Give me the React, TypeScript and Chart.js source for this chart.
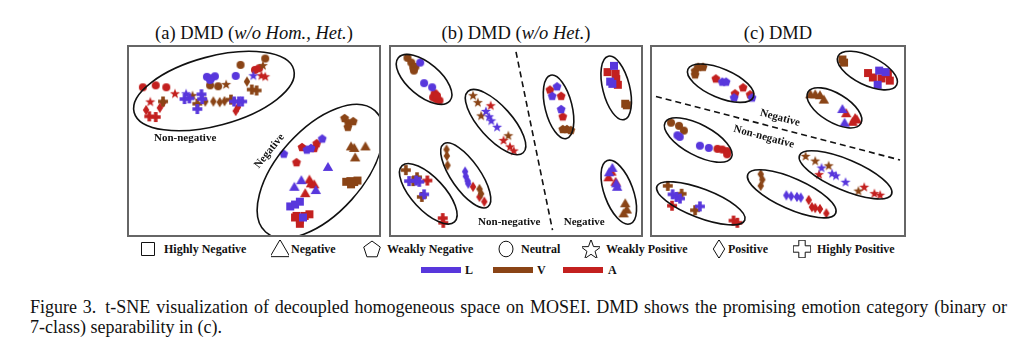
import React, { useEffect, useRef } from "react";
import { Chart, registerables } from "chart.js";
Chart.register(...registerables);

type P = [number, number, number];
type E = [number, number, number, number, number];
type Lbl = [string, number, number, number];

const CLASS_NAMES = ["Highly Negative", "Negative", "Weakly Negative", "Neutral", "Weakly Positive", "Positive", "Highly Positive"];
const MODALITIES = ["L", "V", "A"];
const MODALITY_COLORS = ["#5837dc", "#8a4416", "#c3201f"];
const PANEL_TITLES = ["(a) DMD (", "(b) DMD (", "(c) DMD"];
const PANEL_TITLE_ITALIC = ["w/o Hom., Het.", "w/o Het.", ""];
const CAPTION_LINES = [
  "Figure 3.\u00a0\u00a0t-SNE visualization of decoupled homogeneous space on MOSEI. DMD shows the promising emotion category (binary or",
  "7-class) separability in (c).",
];

// Panel (a)
const aL: P[] = [
  [54.7, 140.3, 6], [59.7, 141, 6], [72.3, 145.3, 6], [73, 140.3, 6], [68, 129.7, 6], [106.3, 137.7, 6], [111.3, 137.7, 6], [114.7, 137.7, 6],
  [56.3, 146.3, 4], [126.3, 165.3, 4],
  [78, 163.7, 3], [82.3, 162, 3], [86.3, 164.3, 3], [81.3, 160.3, 3], [108, 164.7, 3],
  [198, 98.7, 2], [158, 82.7, 2], [186.3, 88.7, 2], [182, 87, 2],
  [204, 68.7, 1], [176.3, 54.7, 1], [169, 47.7, 1], [191.3, 44.3, 1],
  [164.7, 27, 0], [174.7, 32, 0], [169.7, 29, 0], [178, 15.3, 0],
];
const aV: P[] = [
  [63, 144.3, 4], [98, 156, 4], [136.3, 176, 4],
  [32.3, 137.7, 6], [68, 135.3, 6], [124.7, 150.3, 6], [129.7, 149.3, 6], [103, 139.7, 6],
  [76.3, 137.7, 5], [84.7, 137.7, 5], [91.3, 137, 5], [96.3, 138, 5], [119.7, 158.7, 5],
  [81.3, 154.7, 3], [89.7, 153.7, 3], [113, 176.3, 3], [138.7, 183, 3],
  [221.3, 120.3, 2], [225.3, 115.3, 2], [230.3, 117, 2], [224.7, 111, 2],
  [228, 90.3, 1], [231.3, 88.7, 1], [243, 90.3, 1], [232.3, 78.7, 1],
  [223, 53, 0], [227.3, 53.7, 0], [231.3, 52.7, 0], [234.7, 54.3, 0], [228, 50.3, 0],
];
const aA: P[] = [
  [11.3, 152.7, 3], [24.7, 154.7, 3], [35.7, 152.7, 3], [128, 171, 3], [132.3, 172.7, 3],
  [19, 137.7, 4], [44.7, 146.3, 4], [134.7, 165.3, 4], [138.7, 164.3, 4],
  [14.7, 128.7, 5], [29, 131, 5], [32.3, 136.3, 5], [108, 127.7, 5], [110.3, 131.7, 5],
  [18, 122, 6], [24.7, 121.3, 6],
  [177, 89.7, 2], [192.3, 93.7, 2], [189.7, 88.7, 2], [171.3, 73.7, 2],
  [184.7, 55.3, 1], [186.3, 51.3, 1], [189.7, 50.3, 1], [180.3, 41, 1],
  [171.3, 17, 0], [174.7, 13, 0], [184.7, 18.7, 0], [174.7, 8.7, 0], [169.7, 15.3, 0], [179.7, 17, 0],
];
const aEllipses: E[] = [[85.3, 148.7, 86, 36, 15], [196, 64, 85, 44, 48]];
const aLabels: Lbl[] = [["Non-negative", 55.3, 98.7, 0], ["Negative", 143, 85.3, 51]];

// Panel (b)
const bL: P[] = [
  [27.3, 178.7, 3], [31.3, 157, 3], [39.7, 152.7, 3],
  [95.7, 127.7, 4], [99, 122, 4], [101.3, 117.7, 4], [107.3, 111, 4],
  [15.7, 53.7, 6], [23, 54.3, 6], [26.3, 53, 6], [31.3, 39.7, 6],
  [74, 63.7, 5], [74.7, 58.7, 5], [76.7, 53.7, 5], [77.3, 51, 5],
  [169.7, 153.7, 2], [164.7, 143.7, 2], [174, 129.7, 2],
  [229, 175.3, 0], [225, 158.7, 0], [227.3, 156.3, 0],
  [227.3, 67.7, 1], [224, 63, 1], [231.3, 51.3, 1], [232.3, 47.7, 1],
];
const bV: P[] = [
  [14, 183.7, 3], [18, 178.7, 3], [20, 173.7, 3], [22.3, 174.3, 3], [20.7, 170.3, 3],
  [82.3, 144.3, 4], [87.3, 137, 4], [90.7, 123, 4], [119, 102, 4],
  [12.3, 65.3, 6], [20, 53.7, 6], [24, 57.7, 6], [29, 37, 6],
  [54.7, 87, 5], [55, 80.3, 5], [55.7, 70.3, 5], [89, 45.3, 5], [90.7, 40.3, 5],
  [175.7, 108.7, 2], [180, 108.7, 2], [184, 107.7, 2],
  [240.7, 135.3, 0], [242.3, 133.7, 0],
  [240.7, 30.3, 1], [242.3, 23.7, 1], [239, 19.7, 1],
];
const bA: P[] = [
  [42.3, 146.3, 3], [40.7, 142, 3], [44, 140.3, 3], [47.3, 138.7, 3], [44.7, 143.7, 3],
  [100.7, 133.7, 4], [114, 97, 4], [120.7, 90.3, 4], [124.7, 86, 4],
  [34.7, 54.3, 6], [50.7, 14.7, 6], [51.3, 9.7, 6],
  [82.3, 47.7, 5], [89, 37, 5], [94, 32, 5],
  [162.3, 150.3, 2], [174, 143.7, 2], [175.7, 122, 2],
  [222.3, 168.7, 0], [230.7, 167, 0], [231.3, 161.3, 0], [233, 155.3, 0],
  [223.3, 57.7, 1], [230.7, 53, 1], [226.3, 63.7, 1],
];
const bEllipses: E[] = [
  [31.3, 161, 35, 17, -40], [105.7, 116, 43, 17, -48], [35.7, 40.3, 40, 17, -47], [74.7, 59.7, 40, 15, -55],
  [171.3, 132, 34, 14, -76], [231.3, 152, 34, 14, -76], [234, 42, 35, 15, -70],
];
const bDivider: [number, number][] = [[127, 190], [165, 2]];
const bLabels: Lbl[] = [["Non-negative", 120, 10, 0], ["Negative", 198, 10, 0]];

// Panel (c)
const cL: P[] = [
  [70, 158.7, 2], [74, 158.7, 2], [82.3, 142, 2], [101, 142, 2],
  [233.3, 170.3, 0], [240, 168.7, 0], [231.7, 155.3, 0],
  [195, 129.7, 1], [197.3, 115.3, 1],
  [23.3, 102, 3], [25.7, 100.3, 3], [46.7, 91, 3], [56, 88.7, 3],
  [173.3, 68, 4], [184.3, 62, 4], [188.3, 59.7, 4], [198.3, 53, 4],
  [136.7, 38.7, 5], [141.7, 37.7, 5], [147.7, 37, 5], [151.7, 36.3, 5],
  [18.3, 39.7, 6], [22.3, 37, 6], [26, 35.3, 6], [46.7, 27, 6],
];
const cV: P[] = [
  [41.7, 170.3, 2], [45, 174.3, 2], [50, 174.3, 2], [41.7, 166.3, 2],
  [195, 182, 0], [196.7, 178.7, 0],
  [161.7, 145.3, 1], [166.7, 145.3, 1], [171.7, 144.3, 1], [175.7, 139.7, 1],
  [16.7, 115.3, 3], [25, 112, 3], [30, 107, 3],
  [156.7, 80.3, 4], [166.7, 75.3, 4], [180.7, 70.3, 4], [211.7, 43.7, 4],
  [110, 61, 5], [111.7, 55.3, 5], [110, 48.7, 5],
  [13.3, 48.7, 6], [27.7, 40.3, 6], [41.7, 23, 6],
];
const cA: P[] = [
  [63.3, 162, 2], [91.7, 152.7, 2], [83.3, 146.3, 2], [99, 145.3, 2],
  [221.7, 167.7, 0], [226.7, 163, 0], [235.7, 162, 0], [242.3, 167, 0], [244.3, 159.7, 0],
  [199, 125.3, 1], [208.3, 120.3, 1], [210, 118.7, 1], [205.7, 116.3, 1],
  [65, 87.7, 3], [70, 87, 3], [75, 85.3, 3], [75, 82, 3],
  [170.7, 61, 4], [217.7, 47.7, 4], [228.3, 41, 4], [234.3, 39.3, 4],
  [160, 33.7, 5], [163.3, 26.3, 5], [166.7, 25.3, 5], [171.7, 24.3, 5], [178.3, 19.7, 5],
  [17.7, 27.7, 6], [81.7, 12, 6], [85.7, 9.7, 6],
];
const cEllipses: E[] = [
  [68.3, 157, 37, 15, -23], [221, 170.3, 34, 15, -26], [186.7, 131, 32, 15, -31], [45, 97, 39, 16, -28],
  [198.3, 60.3, 52, 16, -23], [142.3, 40.3, 50, 16, -24], [47.7, 30.3, 49, 15, -21],
];
const cDivider: [number, number][] = [[1, 143], [255, 76]];
const cLabels: Lbl[] = [["Negative", 130, 120.3, -15], ["Non-negative", 113.3, 100.3, -15]];

const SERIF = '"Liberation Serif", "Times New Roman", serif';

function shapePath(ctx: CanvasRenderingContext2D, shape: number, cx: number, cy: number, s: number) {
  ctx.beginPath();
  if (shape === 0) {
    ctx.rect(cx - s * 0.5, cy - s * 0.5, s, s);
  } else if (shape === 1) {
    ctx.moveTo(cx, cy - s * 0.55);
    ctx.lineTo(cx + s * 0.58, cy + s * 0.45);
    ctx.lineTo(cx - s * 0.58, cy + s * 0.45);
    ctx.closePath();
  } else if (shape === 2) {
    for (let i = 0; i < 5; i++) {
      const a = -Math.PI / 2 + (i * 2 * Math.PI) / 5;
      const px = cx + Math.cos(a) * s * 0.58;
      const py = cy + 0.05 * s + Math.sin(a) * s * 0.58;
      if (i === 0) ctx.moveTo(px, py); else ctx.lineTo(px, py);
    }
    ctx.closePath();
  } else if (shape === 3) {
    ctx.arc(cx, cy, s * 0.5, 0, Math.PI * 2);
  } else if (shape === 4) {
    for (let i = 0; i < 10; i++) {
      const a = -Math.PI / 2 + (i * Math.PI) / 5;
      const r = i % 2 === 0 ? s * 0.62 : s * 0.25;
      const px = cx + Math.cos(a) * r;
      const py = cy + 0.06 * s + Math.sin(a) * r;
      if (i === 0) ctx.moveTo(px, py); else ctx.lineTo(px, py);
    }
    ctx.closePath();
  } else if (shape === 5) {
    ctx.moveTo(cx, cy - s * 0.62);
    ctx.lineTo(cx + s * 0.38, cy);
    ctx.lineTo(cx, cy + s * 0.62);
    ctx.lineTo(cx - s * 0.38, cy);
    ctx.closePath();
  } else {
    const t = s * 0.2, l = s * 0.55;
    ctx.moveTo(cx - t, cy - l);
    ctx.lineTo(cx + t, cy - l);
    ctx.lineTo(cx + t, cy - t);
    ctx.lineTo(cx + l, cy - t);
    ctx.lineTo(cx + l, cy + t);
    ctx.lineTo(cx + t, cy + t);
    ctx.lineTo(cx + t, cy + l);
    ctx.lineTo(cx - t, cy + l);
    ctx.lineTo(cx - t, cy + t);
    ctx.lineTo(cx - l, cy + t);
    ctx.lineTo(cx - l, cy - t);
    ctx.lineTo(cx - t, cy - t);
    ctx.closePath();
  }
}

const MARKER_SIZES = [8, 9, 8, 8, 8.5, 8.5, 9];
const markerCache: Record<string, HTMLCanvasElement> = {};
function marker(shape: number, color: string): HTMLCanvasElement {
  const key = shape + color;
  if (markerCache[key]) return markerCache[key];
  const c = document.createElement("canvas");
  c.width = 12;
  c.height = 12;
  const ctx = c.getContext("2d")!;
  shapePath(ctx, shape, 6, 6, MARKER_SIZES[shape]);
  ctx.fillStyle = color;
  ctx.fill();
  markerCache[key] = c;
  return c;
}

type PanelProps = {
  left: number; top: number; w: number; h: number;
  series: P[][]; ellipses: E[]; labels: Lbl[]; divider?: [number, number][];
};

function Panel({ left, top, w, h, series, ellipses, labels, divider }: PanelProps) {
  const ref = useRef<HTMLCanvasElement>(null);
  useEffect(() => {
    const canvas = ref.current!;
    const overlay = {
      id: "overlay",
      afterDatasetsDraw(chart: any) {
        const ctx: CanvasRenderingContext2D = chart.ctx;
        const xs = chart.scales.x, ys = chart.scales.y;
        const k = xs.getPixelForValue(1) - xs.getPixelForValue(0);
        ctx.save();
        ctx.strokeStyle = "#111";
        ctx.lineWidth = 1.6;
        for (const [cx, cy, a, b, ang] of ellipses) {
          ctx.beginPath();
          ctx.ellipse(xs.getPixelForValue(cx), ys.getPixelForValue(cy), a * k, b * k, (-ang * Math.PI) / 180, 0, Math.PI * 2);
          ctx.stroke();
        }
        ctx.fillStyle = "#111";
        ctx.font = `bold 11px ${SERIF}`;
        ctx.textAlign = "center";
        ctx.textBaseline = "middle";
        for (const [t, x, y, ang] of labels) {
          ctx.save();
          ctx.translate(xs.getPixelForValue(x), ys.getPixelForValue(y));
          ctx.rotate((-ang * Math.PI) / 180);
          ctx.fillText(t, 0, 0);
          ctx.restore();
        }
        ctx.restore();
        ctx.save();
        ctx.strokeStyle = "#666";
        ctx.lineWidth = 2;
        ctx.strokeRect(1, 1, chart.width - 2, chart.height - 2);
        ctx.restore();
      },
    };
    const datasets: any[] = series.map((pts, i) => ({
      label: MODALITIES[i],
      data: pts.map(([x, y, c]) => ({ x, y, c })),
      pointStyle: (cx: any) => marker(cx.raw ? cx.raw.c : 3, MODALITY_COLORS[i]),
      pointRadius: 4,
      clip: false,
    }));
    if (divider) {
      datasets.unshift({
        type: "line",
        label: "divider",
        data: divider.map(([x, y]) => ({ x, y })),
        borderColor: "#111",
        borderWidth: 1.6,
        borderDash: [6, 4],
        pointRadius: 0,
        fill: false,
        clip: false,
      });
    }
    const chart = new Chart(canvas, {
      type: "scatter",
      data: { datasets },
      options: {
        animation: false,
        responsive: false,
        devicePixelRatio: 1,
        layout: { padding: 0 },
        scales: {
          x: { type: "linear", min: 0, max: w, display: false },
          y: { type: "linear", min: 0, max: h, display: false },
        },
        plugins: { legend: { display: false }, tooltip: { enabled: false } },
      },
      plugins: [overlay],
    } as any);
    return () => chart.destroy();
  }, []);
  return <canvas ref={ref} width={w} height={h} style={{ position: "absolute", left, top, width: w, height: h }} />;
}

function LegendIcon({ shape, x }: { shape: number; x: number }) {
  const size = 18;
  const ref = useRef<HTMLCanvasElement>(null);
  useEffect(() => {
    const ctx = ref.current!.getContext("2d")!;
    ctx.clearRect(0, 0, size, size);
    const s = [13, 17, 15, 15, 17, 15, 16][shape];
    if (shape === 3) {
      ctx.beginPath();
      ctx.ellipse(9, 9, 7, 7.8, 0, 0, Math.PI * 2);
    } else {
      shapePath(ctx, shape, 9, 9, s);
    }
    ctx.strokeStyle = "#111";
    ctx.lineWidth = 1;
    ctx.stroke();
  }, []);
  return <canvas ref={ref} width={size} height={size} style={{ position: "absolute", left: x, top: 240 }} />;
}

const LEGEND_ICON_X = [139, 271, 363, 497, 582, 710, 793];
const LEGEND_LABEL_X = [164, 291, 387, 521, 606, 728, 817];
const BAR_X = [421, 493, 563];
const BAR_LABEL_X = [465, 537, 608];

export default function App() {
  const titleCenters = [254, 516, 778];
  return (
    <div style={{ position: "absolute", left: 0, top: 0, width: 1024, height: 342, background: "#fff", fontFamily: SERIF, color: "#111", overflow: "hidden" }}>
      {PANEL_TITLES.map((t, i) => (
        <div key={i} style={{ position: "absolute", left: titleCenters[i] - 150, width: 300, top: 23, textAlign: "center", fontSize: 18.5, lineHeight: "20px", whiteSpace: "nowrap" }}>
          {t}
          {PANEL_TITLE_ITALIC[i] ? <i>{PANEL_TITLE_ITALIC[i]}</i> : null}
          {PANEL_TITLE_ITALIC[i] ? ")" : null}
        </div>
      ))}
      <Panel left={127} top={45} w={254} h={192} series={[aL, aV, aA]} ellipses={aEllipses} labels={aLabels} />
      <Panel left={389} top={45} w={254} h={192} series={[bL, bV, bA]} ellipses={bEllipses} labels={bLabels} divider={bDivider} />
      <Panel left={650} top={45} w={256} h={192} series={[cL, cV, cA]} ellipses={cEllipses} labels={cLabels} divider={cDivider} />
      {CLASS_NAMES.map((n, i) => (
        <React.Fragment key={n}>
          <LegendIcon shape={i} x={LEGEND_ICON_X[i]} />
          <div style={{ position: "absolute", left: LEGEND_LABEL_X[i], top: 242, fontSize: 12, fontWeight: "bold", lineHeight: "14px", whiteSpace: "nowrap" }}>{n}</div>
        </React.Fragment>
      ))}
      {MODALITIES.map((m, i) => (
        <React.Fragment key={m}>
          <div style={{ position: "absolute", left: BAR_X[i], top: 267, width: 40, height: 6, background: MODALITY_COLORS[i] }} />
          <div style={{ position: "absolute", left: BAR_LABEL_X[i], top: 263, fontSize: 12, fontWeight: "bold", lineHeight: "14px" }}>{m}</div>
        </React.Fragment>
      ))}
      <div style={{ position: "absolute", left: 30, top: 297, width: 977, fontSize: 18, lineHeight: "20px", textAlign: "justify", textAlignLast: "justify" as any, whiteSpace: "nowrap", display: "flex", justifyContent: "space-between" }}>
        {CAPTION_LINES[0].split(" ").map((w, i) => <span key={i}>{w}</span>)}
      </div>
      <div style={{ position: "absolute", left: 30, top: 317, fontSize: 18, lineHeight: "20px", whiteSpace: "nowrap" }}>
        {CAPTION_LINES[1]}
      </div>
    </div>
  );
}
